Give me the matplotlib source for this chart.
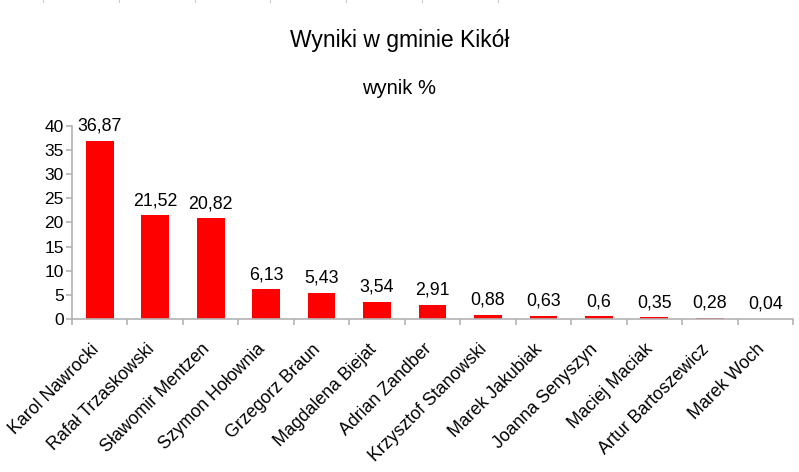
import matplotlib
matplotlib.use("Agg")
import matplotlib.pyplot as plt
from matplotlib.lines import Line2D

plt.rcParams['font.family'] = ['Liberation Sans', 'DejaVu Sans']

title = "Wyniki w gminie Kikół"
subtitle = "wynik %"
candidates = ["Karol Nawrocki", "Rafał Trzaskowski", "Sławomir Mentzen", "Szymon Hołownia",
              "Grzegorz Braun", "Magdalena Biejat", "Adrian Zandber", "Krzysztof Stanowski",
              "Marek Jakubiak", "Joanna Senyszyn", "Maciej Maciak", "Artur Bartoszewicz",
              "Marek Woch"]
values = [36.87, 21.52, 20.82, 6.13, 5.43, 3.54, 2.91, 0.88, 0.63, 0.6, 0.35, 0.28, 0.04]
yticks = [0, 5, 10, 15, 20, 25, 30, 35, 40]

gray = "#b3b3b3"

fig = plt.figure(figsize=(7.99, 4.72), dpi=100)
ax = fig.add_axes([72/799, 1-319/472, (793-72)/799, (319-125.7)/472])

x = list(range(len(values)))
ax.bar(x, values, width=0.5, color="#ff0000")
ax.set_xlim(-0.5, len(values) - 0.5)
ax.set_ylim(0, 40)
ax.set_yticks(yticks)
ax.set_yticklabels([str(t) for t in yticks], fontsize=12.5)

for i, v in enumerate(values):
    ax.annotate(str(v).replace('.', ','), (i, v), xytext=(0, 7.2), textcoords='offset points',
                ha='center', va='baseline', fontsize=12.8, color='black')

# category boundary ticks
ax.set_xticks([i - 0.5 for i in range(len(values) + 1)])
ax.set_xticklabels([])
ax.tick_params(axis='x', length=4.5, color=gray, width=1.2)
ax.tick_params(axis='y', length=4, color=gray, width=1.2, pad=2)

for i, name in enumerate(candidates):
    ax.annotate(name, (i, 0), xytext=(-2.5, -20), textcoords='offset points',
                ha='right', va='center', rotation=45, rotation_mode='anchor', fontsize=12.8)

for s in ['top', 'right']:
    ax.spines[s].set_visible(False)
for s in ['left', 'bottom']:
    ax.spines[s].set_color(gray)
    ax.spines[s].set_linewidth(1.2)

fig.text(0.5, 1 - 40/472, title, ha='center', va='center', fontsize=16.5)
fig.text(0.5, 1 - 88/472, subtitle, ha='center', va='center', fontsize=14.5)

# faint marks at the top edge
for px in [43, 119, 195, 270, 346, 422, 498]:
    fig.add_artist(Line2D([px/799, px/799], [1, 1 - 1.5/472], color="#bbbbbb", lw=0.6,
                          transform=fig.transFigure))

fig.savefig("out.png", dpi=100)
